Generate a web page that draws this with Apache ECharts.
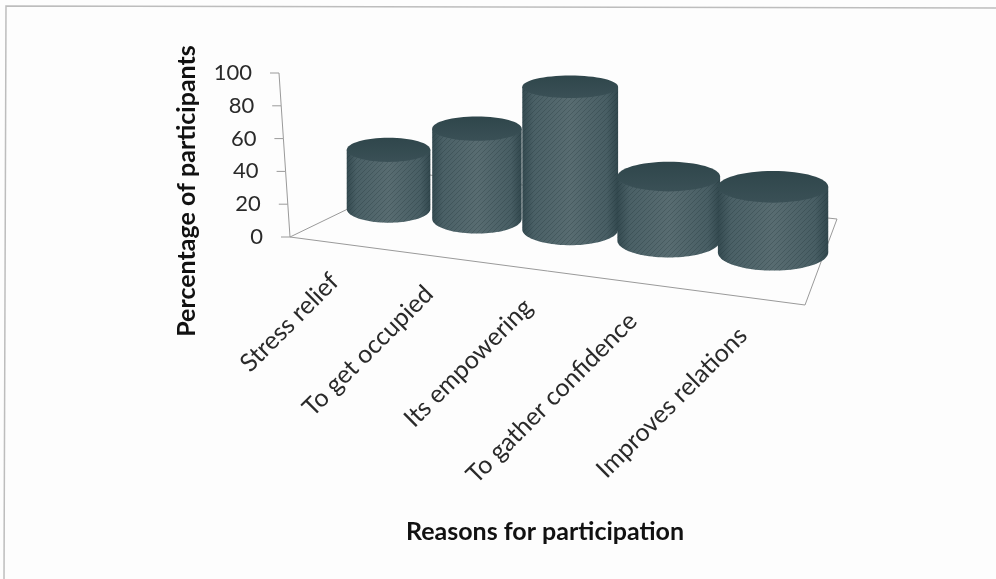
<!DOCTYPE html>
<html>
<head>
<meta charset="utf-8">
<script src="https://cdn.jsdelivr.net/npm/echarts@6/dist/echarts.min.js"></script>
<style>
  html, body { margin: 0; padding: 0; background: #fdfdfd; }
  #main { width: 996px; height: 579px; }
</style>
</head>
<body>
<div id="main"></div>
<script>
const categories = ["Stress relief", "To get occupied", "Its empowering", "To gather confidence", "Improves relations"];
const participants = [36, 55, 87, 39, 40];
const yTicks = [0, 20, 40, 60, 80, 100];

const fontName = "Lato";
const textColor = "#2a2a2a";
const lineColor = "#9a9a9a";

// floor of the fake 3d box, corners in pixels: front left, front right, back right, back left
const A = [290, 237], B = [805, 305], C = [837, 219], D = [420, 174];
const gridLeft = A[0], gridWidth = B[0] - A[0];
const depth = 0.45;

// unit square -> floor quad
function makeFloor(p0, p1, p2, p3) {
  const dx1 = p1[0] - p2[0], dx2 = p3[0] - p2[0], sx = p0[0] - p1[0] + p2[0] - p3[0];
  const dy1 = p1[1] - p2[1], dy2 = p3[1] - p2[1], sy = p0[1] - p1[1] + p2[1] - p3[1];
  const den = dx1 * dy2 - dx2 * dy1;
  const g = (sx * dy2 - dx2 * sy) / den, h = (dx1 * sy - sx * dy1) / den;
  const a = p1[0] - p0[0] + g * p1[0], b = p3[0] - p0[0] + h * p3[0];
  const d = p1[1] - p0[1] + g * p1[1], e = p3[1] - p0[1] + h * p3[1];
  return function (s, t) {
    const w = g * s + h * t + 1;
    return [(a * s + b * t + p0[0]) / w, (d * s + e * t + p0[1]) / w];
  };
}
const floor = makeFloor(A, B, C, D);

// diagonal hatch over the cylinders, the scan has this grain
const hatch = document.createElement("canvas");
hatch.width = 5;
hatch.height = 5;
const hctx = hatch.getContext("2d");
hctx.strokeStyle = "rgba(20,35,40,0.22)";
hctx.lineWidth = 1;
hctx.beginPath();
hctx.moveTo(0, 5);
hctx.lineTo(5, 0);
hctx.stroke();

function categoryS(api, i) {
  const s = (api.coord([i, 0])[0] - gridLeft) / gridWidth;
  return 0.08 + (s - 0.1) * 1.035;
}

function renderCylinder(params, api) {
  const i = api.value(0);
  const s = categoryS(api, i);
  const base = floor(s, depth);
  base[1] -= 3 * s;
  const rx = (Math.abs(floor(s + 0.1, depth)[0] - floor(s - 0.1, depth)[0]) / 2) * (1 + 0.07 * s);
  const ry = rx * 0.33;
  const h = api.size([0, api.value(1)])[1];
  const ryTop = ry * (1 - h / 500);
  const pts = [[base[0] - rx, base[1] - h]];
  for (let k = 0; k <= 48; k++) {
    const a = Math.PI - (Math.PI * k) / 48;
    pts.push([base[0] + rx * Math.cos(a), base[1] + ry * Math.sin(a)]);
  }
  pts.push([base[0] + rx, base[1] - h]);
  const body = new echarts.graphic.LinearGradient(0, 0, 1, 0, [
    { offset: 0, color: "#344a50" },
    { offset: 0.12, color: "#4a6066" },
    { offset: 0.5, color: "#586c71" },
    { offset: 0.88, color: "#485e64" },
    { offset: 1, color: "#32484e" }
  ]);
  const top = new echarts.graphic.LinearGradient(0, 0, 0, 1, [
    { offset: 0, color: "#2f464b" },
    { offset: 1, color: "#3a5056" }
  ]);
  return {
    type: "group",
    children: [
      { type: "polygon", shape: { points: pts }, style: { fill: body } },
      { type: "polygon", shape: { points: pts }, style: { fill: { image: hatch, repeat: "repeat" } } },
      { type: "ellipse", shape: { cx: base[0], cy: base[1] - h, rx: rx, ry: ryTop }, style: { fill: top } }
    ]
  };
}

// y axis leans inwards like the box wall, so it is drawn here from the value scale
function renderYAxis(params, api) {
  const lean = (y) => A[0] + ((A[1] - y) * (279 - A[0])) / (A[1] - 73);
  const v = api.value(0);
  const y = api.coord([0, v])[1];
  const x = lean(y);
  const children = [
    { type: "line", shape: { x1: x - 9, y1: y, x2: x, y2: y }, style: { stroke: lineColor, lineWidth: 1 } },
    {
      type: "text",
      style: { text: String(v), x: x - 27, y: y, align: "right", verticalAlign: "middle", font: "22px " + fontName, fill: textColor }
    }
  ];
  if (v > 0) {
    const y2 = api.coord([0, v - 20])[1];
    children.push({ type: "line", shape: { x1: x, y1: y, x2: lean(y2), y2: y2 }, style: { stroke: lineColor, lineWidth: 1 } });
  }
  return { type: "group", children: children };
}

// labels hang under the front edge of the floor, stepping a bit wider than the cylinders
function renderCategoryLabel(params, api) {
  const i = api.value(0);
  const s = categoryS(api, i);
  const x = floor(s, depth)[0] - 60 + 11 + (s - 0.08) * 29;
  const edgeY = A[1] + ((x - A[0]) * (B[1] - A[1])) / (B[0] - A[0]);
  return {
    type: "text",
    x: x - 5,
    y: edgeY + 34,
    rotation: Math.PI / 4,
    style: { text: categories[i], x: 0, y: 0, align: "right", verticalAlign: "middle", font: "25px " + fontName, fill: textColor }
  };
}

const chart = echarts.init(document.getElementById("main"), null, { renderer: "canvas" });
chart.setOption({
  backgroundColor: "#fdfdfd",
  animation: false,
  grid: { left: gridLeft, top: 73, width: gridWidth, height: 164 },
  xAxis: { type: "category", data: categories, show: false },
  yAxis: { type: "value", min: 0, max: 100, interval: 20, show: false },
  graphic: [
    { type: "polyline", shape: { points: [[4, 579], [6, 6], [996, 8]] }, style: { fill: "none", stroke: "#bdbdbd", lineWidth: 1.5 } },
    {
      type: "polygon",
      shape: { points: [A, B, C, D] },
      style: { fill: "none", stroke: lineColor, lineWidth: 1 },
      z: 1
    },
    {
      type: "text", x: 187, y: 191, rotation: Math.PI / 2,
      style: { text: "Percentage of participants", align: "center", verticalAlign: "middle", font: "bold 25px " + fontName, fill: "#111" }
    },
    {
      type: "text", x: 545, y: 532,
      style: { text: "Reasons for participation", align: "center", verticalAlign: "middle", font: "bold 25px " + fontName, fill: "#111" }
    }
  ],
  series: [
    { type: "custom", coordinateSystem: "cartesian2d", renderItem: renderYAxis, data: yTicks.map((v) => [v]), encode: { y: 0 }, z: 2, silent: true },
    { type: "custom", coordinateSystem: "cartesian2d", renderItem: renderCylinder, data: participants.map((v, i) => [i, v]), encode: { x: 0, y: 1 }, z: 3 },
    { type: "custom", coordinateSystem: "cartesian2d", renderItem: renderCategoryLabel, data: categories.map((c, i) => [i]), encode: { x: 0 }, z: 3, silent: true }
  ]
});
</script>
</body>
</html>
